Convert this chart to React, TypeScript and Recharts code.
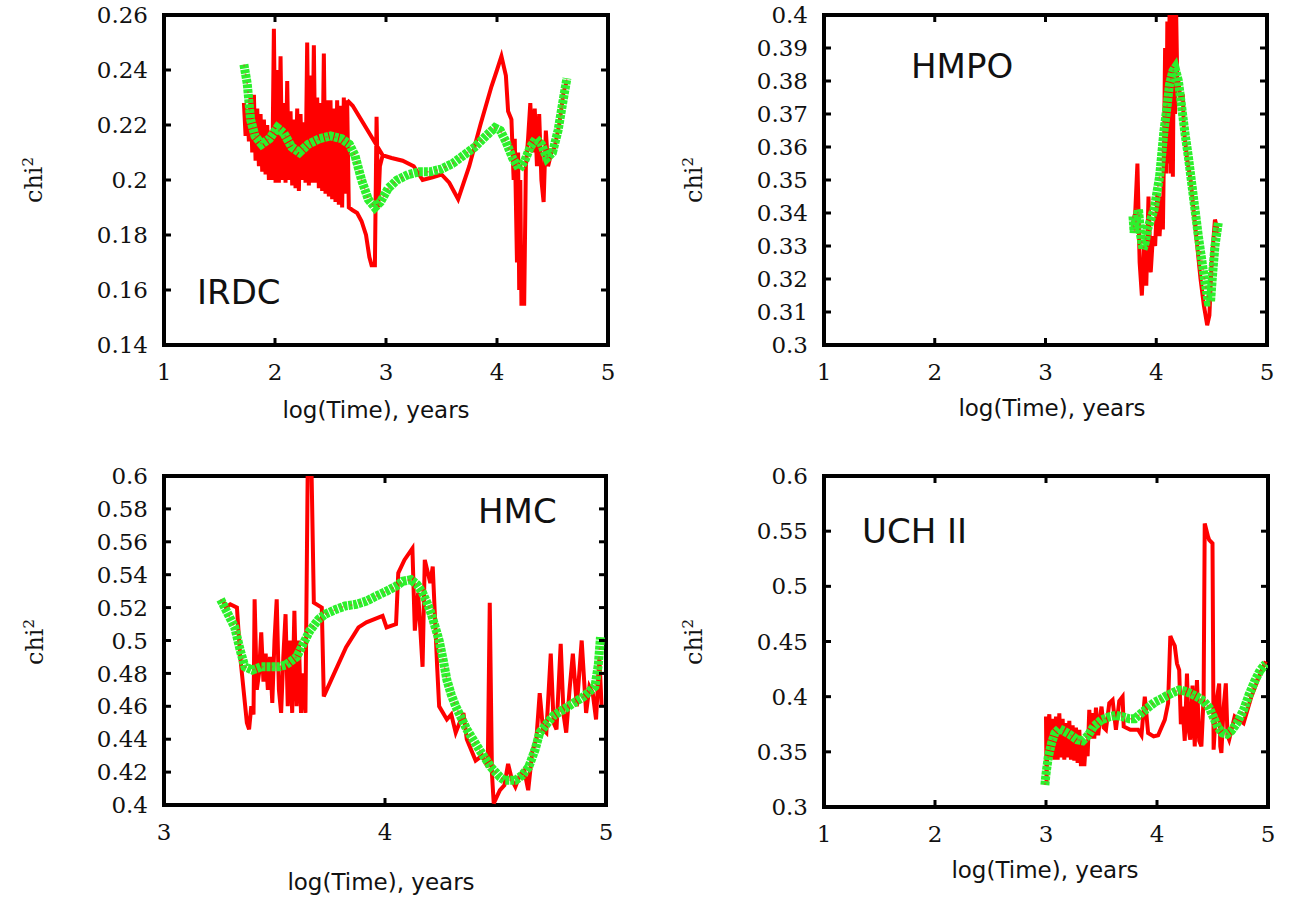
import React from 'react';
import { LineChart, Line, XAxis, YAxis, ReferenceArea, ReferenceLine } from 'recharts';

type Pt = [number, number | null];

// IRDC: raw chi^2 (red) and smoothed curve (green)
const IRDC_RED: Pt[] = [
  [1.72, 0.228], [1.735, 0.216], [1.75, 0.226], [1.765, 0.214], [1.78, 0.231], [1.795, 0.21],
  [1.81, 0.231], [1.825, 0.207], [1.84, 0.226], [1.855, 0.205], [1.87, 0.224], [1.885, 0.203],
  [1.9, 0.222], [1.915, 0.202], [1.93, 0.22], [1.945, 0.2], [1.96, 0.218], [1.975, 0.2],
  [1.99, 0.255], [2.005, 0.199], [2.02, 0.24], [2.035, 0.199], [2.05, 0.245], [2.065, 0.2],
  [2.08, 0.228], [2.095, 0.199], [2.11, 0.236], [2.125, 0.2], [2.14, 0.225], [2.155, 0.198],
  [2.17, 0.222], [2.185, 0.197], [2.2, 0.226], [2.215, 0.196], [2.23, 0.224], [2.245, 0.2],
  [2.26, 0.221], [2.275, 0.199], [2.29, 0.25], [2.305, 0.198], [2.32, 0.238], [2.335, 0.199],
  [2.35, 0.249], [2.365, 0.199], [2.38, 0.23], [2.395, 0.197], [2.41, 0.228], [2.425, 0.196],
  [2.44, 0.246], [2.455, 0.195], [2.47, 0.229], [2.485, 0.194], [2.5, 0.229], [2.515, 0.193],
  [2.53, 0.226], [2.545, 0.192], [2.56, 0.229], [2.575, 0.191], [2.59, 0.227], [2.605, 0.19],
  [2.62, 0.23], [2.635, 0.195], [2.65, 0.229], [2.665, 0.19], [2.7, 0.189], [2.74, 0.188],
  [2.78, 0.185], [2.82, 0.18], [2.85, 0.172], [2.87, 0.169], [2.9, 0.169], [2.915, 0.223],
  [2.93, 0.19], [2.945, 0.205], [2.97, 0.209], [3.05, 0.208], [3.15, 0.207], [3.25, 0.205],
  [3.33, 0.2], [3.42, 0.201], [3.5, 0.202], [3.57, 0.199], [3.65, 0.193], [3.75, 0.205],
  [3.85, 0.22], [3.95, 0.234], [4.0, 0.24], [4.04, 0.245], [4.08, 0.238], [4.1, 0.225],
  [4.13, 0.222], [4.15, 0.2], [4.16, 0.215], [4.18, 0.17], [4.19, 0.21], [4.2, 0.16],
  [4.21, 0.2], [4.22, 0.155], [4.245, 0.155], [4.26, 0.205], [4.28, 0.215], [4.3, 0.228],
  [4.32, 0.21], [4.34, 0.226], [4.36, 0.205], [4.38, 0.224], [4.4, 0.2], [4.42, 0.192],
  [4.44, 0.218], [4.46, 0.205], [4.49, 0.21], [4.52, 0.212], [4.56, 0.22], [4.6, 0.232],
  [4.63, 0.236],
  // separate stroke: the slope after the 2.65 spike
  [4.63, null], [2.65, 0.229], [2.7, 0.227], [2.97, 0.209],
];
const IRDC_GREEN: Pt[] = [
  [1.72, 0.242], [1.75, 0.235], [1.78, 0.222], [1.82, 0.216], [1.88, 0.213], [1.95, 0.215],
  [2.02, 0.219], [2.08, 0.217], [2.15, 0.212], [2.22, 0.21], [2.3, 0.213], [2.4, 0.215],
  [2.5, 0.216], [2.6, 0.215], [2.67, 0.213], [2.72, 0.209], [2.78, 0.2], [2.84, 0.193],
  [2.9, 0.19], [2.95, 0.192], [3.02, 0.197], [3.1, 0.2], [3.2, 0.202], [3.3, 0.203],
  [3.4, 0.203], [3.5, 0.204], [3.6, 0.206], [3.7, 0.209], [3.8, 0.212], [3.9, 0.216],
  [3.98, 0.219], [4.03, 0.218], [4.08, 0.214], [4.14, 0.208], [4.2, 0.204], [4.25, 0.207],
  [4.3, 0.212], [4.35, 0.215], [4.4, 0.213], [4.45, 0.208], [4.5, 0.21], [4.55, 0.218],
  [4.6, 0.23], [4.63, 0.237],
];

// HMPO
const HMPO_RED: Pt[] = [
  [3.79, 0.337], [3.81, 0.34], [3.83, 0.355], [3.85, 0.325], [3.87, 0.315], [3.89, 0.33],
  [3.91, 0.318], [3.93, 0.345], [3.95, 0.322], [3.97, 0.333], [3.99, 0.33], [4.01, 0.346],
  [4.03, 0.333], [4.05, 0.345], [4.06, 0.335], [4.07, 0.36], [4.08, 0.39], [4.09, 0.352],
  [4.1, 0.398], [4.11, 0.355], [4.12, 0.4], [4.13, 0.352], [4.14, 0.4], [4.15, 0.351],
  [4.16, 0.4], [4.17, 0.37], [4.18, 0.4], [4.19, 0.38], [4.2, 0.38], [4.22, 0.374],
  [4.24, 0.376], [4.25, 0.365], [4.28, 0.356], [4.31, 0.35], [4.34, 0.34], [4.37, 0.33],
  [4.4, 0.32], [4.43, 0.312], [4.46, 0.306], [4.48, 0.309], [4.5, 0.325], [4.53, 0.338],
  [4.56, 0.334],
];
const HMPO_GREEN: Pt[] = [
  [3.79, 0.339], [3.8, 0.334], [3.82, 0.338], [3.84, 0.341], [3.86, 0.333], [3.88, 0.329],
  [3.9, 0.331], [3.92, 0.335], [3.95, 0.338], [3.98, 0.341], [4.0, 0.345], [4.03, 0.351],
  [4.05, 0.358], [4.07, 0.365], [4.1, 0.373], [4.12, 0.379], [4.15, 0.383], [4.17, 0.384],
  [4.2, 0.38], [4.23, 0.372], [4.26, 0.364], [4.29, 0.357], [4.32, 0.349], [4.35, 0.341],
  [4.38, 0.333], [4.41, 0.326], [4.44, 0.319], [4.47, 0.313], [4.49, 0.313], [4.51, 0.322],
  [4.53, 0.33], [4.56, 0.337],
];

// HMC
const HMC_RED: Pt[] = [
  [3.265, 0.525], [3.28, 0.52], [3.3, 0.522], [3.33, 0.52], [3.345, 0.49], [3.36, 0.47],
  [3.375, 0.45], [3.385, 0.446], [3.395, 0.46], [3.405, 0.455], [3.41, 0.525], [3.42, 0.47],
  [3.43, 0.48], [3.44, 0.505], [3.45, 0.475], [3.46, 0.492], [3.47, 0.47], [3.48, 0.49],
  [3.49, 0.462], [3.5, 0.5], [3.51, 0.525], [3.52, 0.47], [3.53, 0.456], [3.54, 0.49],
  [3.55, 0.516], [3.56, 0.46], [3.57, 0.5], [3.58, 0.456], [3.59, 0.518], [3.6, 0.46],
  [3.61, 0.5], [3.62, 0.456], [3.63, 0.48], [3.64, 0.456], [3.65, 0.6], [3.668, 0.6],
  [3.678, 0.523], [3.714, 0.52], [3.723, 0.466], [3.77, 0.48], [3.824, 0.496], [3.88, 0.508],
  [3.916, 0.511], [3.989, 0.515], [4.007, 0.508], [4.05, 0.51], [4.06, 0.541], [4.088, 0.549],
  [4.124, 0.556], [4.135, 0.506], [4.15, 0.529], [4.17, 0.484], [4.18, 0.549], [4.205, 0.535],
  [4.216, 0.545], [4.236, 0.484], [4.245, 0.46], [4.28, 0.452], [4.3, 0.455], [4.32, 0.444],
  [4.355, 0.456], [4.37, 0.44], [4.41, 0.427], [4.44, 0.43], [4.465, 0.423], [4.474, 0.523],
  [4.484, 0.419], [4.492, 0.401], [4.52, 0.409], [4.54, 0.412], [4.557, 0.425], [4.575, 0.415],
  [4.59, 0.411], [4.61, 0.418], [4.63, 0.421], [4.648, 0.409], [4.667, 0.433], [4.685, 0.44],
  [4.7, 0.468], [4.715, 0.446], [4.73, 0.444], [4.75, 0.492], [4.763, 0.45], [4.776, 0.446],
  [4.795, 0.498], [4.808, 0.455], [4.82, 0.444], [4.835, 0.47], [4.85, 0.492], [4.868, 0.46],
  [4.89, 0.5], [4.91, 0.456], [4.925, 0.472], [4.94, 0.468], [4.955, 0.452], [4.97, 0.49],
  [4.98, 0.46],
];
const HMC_GREEN: Pt[] = [
  [3.256, 0.525], [3.29, 0.516], [3.32, 0.508], [3.345, 0.494], [3.366, 0.484], [3.4, 0.482],
  [3.44, 0.484], [3.476, 0.484], [3.52, 0.484], [3.55, 0.485], [3.6, 0.49], [3.63, 0.498],
  [3.66, 0.506], [3.7, 0.513], [3.73, 0.516], [3.78, 0.519], [3.82, 0.521], [3.87, 0.522],
  [3.916, 0.524], [3.96, 0.527], [4.007, 0.53], [4.05, 0.533], [4.08, 0.536], [4.117, 0.537],
  [4.145, 0.534], [4.17, 0.529], [4.19, 0.523], [4.21, 0.516], [4.245, 0.5], [4.265, 0.487],
  [4.28, 0.476], [4.3, 0.467], [4.32, 0.46], [4.37, 0.446], [4.43, 0.433], [4.48, 0.423],
  [4.52, 0.417], [4.54, 0.415], [4.59, 0.415], [4.62, 0.418], [4.65, 0.423], [4.68, 0.434],
  [4.7, 0.444], [4.73, 0.449], [4.76, 0.454], [4.83, 0.46], [4.9, 0.466], [4.95, 0.472],
  [4.965, 0.485], [4.975, 0.502],
];

// UCH II
const UCH_RED: Pt[] = [
  [3.0, 0.382], [3.005, 0.322], [3.015, 0.37], [3.03, 0.384], [3.045, 0.345], [3.06, 0.38],
  [3.075, 0.343], [3.09, 0.382], [3.105, 0.343], [3.12, 0.385], [3.135, 0.345], [3.15, 0.38],
  [3.165, 0.343], [3.18, 0.376], [3.195, 0.345], [3.21, 0.378], [3.225, 0.343], [3.24, 0.374],
  [3.255, 0.342], [3.27, 0.372], [3.285, 0.34], [3.3, 0.37], [3.315, 0.337], [3.33, 0.36],
  [3.345, 0.337], [3.36, 0.36], [3.375, 0.346], [3.39, 0.388], [3.405, 0.362], [3.42, 0.385],
  [3.435, 0.362], [3.45, 0.39], [3.47, 0.365], [3.5, 0.391], [3.52, 0.372], [3.54, 0.37],
  [3.57, 0.394], [3.6, 0.397], [3.63, 0.37], [3.66, 0.396], [3.69, 0.4], [3.7, 0.373],
  [3.76, 0.37], [3.83, 0.37], [3.86, 0.365], [3.89, 0.4], [3.92, 0.367], [3.97, 0.364],
  [4.01, 0.365], [4.07, 0.379], [4.1, 0.394], [4.12, 0.455], [4.14, 0.45], [4.16, 0.446],
  [4.18, 0.43], [4.2, 0.424], [4.215, 0.375], [4.23, 0.391], [4.25, 0.36], [4.27, 0.421],
  [4.285, 0.37], [4.3, 0.361], [4.32, 0.41], [4.34, 0.355], [4.36, 0.415], [4.38, 0.36],
  [4.4, 0.355], [4.42, 0.4], [4.43, 0.557], [4.46, 0.545], [4.47, 0.542], [4.5, 0.539],
  [4.51, 0.352], [4.535, 0.395], [4.56, 0.412], [4.57, 0.355], [4.58, 0.349], [4.6, 0.39],
  [4.62, 0.412], [4.635, 0.365], [4.65, 0.361], [4.7, 0.382], [4.78, 0.376], [4.85, 0.4],
  [4.93, 0.421], [4.98, 0.432],
];
const UCH_GREEN: Pt[] = [
  [2.99, 0.32], [3.0, 0.33], [3.02, 0.345], [3.05, 0.358], [3.08, 0.367], [3.12, 0.371],
  [3.16, 0.369], [3.21, 0.366], [3.28, 0.361], [3.33, 0.36], [3.38, 0.365], [3.43, 0.373],
  [3.5, 0.379], [3.575, 0.382], [3.63, 0.383], [3.685, 0.382], [3.75, 0.38], [3.8, 0.38],
  [3.87, 0.386], [3.93, 0.391], [3.98, 0.395], [4.04, 0.398], [4.09, 0.401], [4.15, 0.404],
  [4.2, 0.406], [4.25, 0.405], [4.3, 0.403], [4.36, 0.4], [4.42, 0.396], [4.47, 0.39],
  [4.51, 0.381], [4.55, 0.372], [4.59, 0.367], [4.63, 0.366], [4.67, 0.369], [4.72, 0.376],
  [4.78, 0.388], [4.83, 0.402], [4.88, 0.414], [4.93, 0.424], [4.98, 0.43],
];

const LOG_T_TICKS = [1, 2, 3, 4, 5];
const HMC_X_TICKS = [3, 4, 5];
const IRDC_Y_TICKS = [0.14, 0.16, 0.18, 0.2, 0.22, 0.24, 0.26];
const HMPO_Y_TICKS = [0.3, 0.31, 0.32, 0.33, 0.34, 0.35, 0.36, 0.37, 0.38, 0.39, 0.4];
const HMC_Y_TICKS = [0.4, 0.42, 0.44, 0.46, 0.48, 0.5, 0.52, 0.54, 0.56, 0.58, 0.6];
const UCH_Y_TICKS = [0.3, 0.35, 0.4, 0.45, 0.5, 0.55, 0.6];

const toRows = (pts: Pt[]) => pts.map(([x, y]) => ({ x, y }));

const SERIF = '"DejaVu Serif", "Liberation Serif", serif';
const SANS = '"DejaVu Sans", "Liberation Sans", sans-serif';

const tickText = { fill: '#111', fontSize: 23, fontFamily: SERIF };
const TICK_PX = 7;

interface PanelProps {
  left: number;
  top: number;
  width: number;
  height: number;
  yAxisWidth: number;
  marginTop: number;
  marginRight: number;
  xAxisHeight: number;
  xDomain: [number, number];
  xTicks: number[];
  yDomain: [number, number];
  yTicks: number[];
  red: Pt[];
  green: Pt[];
}

function Panel(p: PanelProps) {
  const [x0, x1] = p.xDomain;
  const [y0, y1] = p.yDomain;
  const plotW = p.width - p.yAxisWidth - p.marginRight;
  const plotH = p.height - p.marginTop - p.xAxisHeight;
  // gnuplot-style inward ticks on all four sides, expressed in data units
  const dx = ((x1 - x0) * TICK_PX) / plotW;
  const dy = ((y1 - y0) * TICK_PX) / plotH;
  const tickProps = { stroke: '#000', strokeWidth: 3, ifOverflow: 'visible' as const };

  return (
    <div style={{ position: 'absolute', left: p.left, top: p.top }}>
      <LineChart
        width={p.width}
        height={p.height}
        margin={{ top: p.marginTop, right: p.marginRight, bottom: 0, left: 0 }}
      >
        <XAxis
          type="number"
          dataKey="x"
          domain={p.xDomain}
          ticks={p.xTicks}
          interval={0}
          allowDataOverflow
          height={p.xAxisHeight}
          axisLine={false}
          tickLine={false}
          tickSize={0}
          tickMargin={19}
          tick={tickText}
        />
        <YAxis
          type="number"
          domain={p.yDomain}
          ticks={p.yTicks}
          interval={0}
          allowDataOverflow
          width={p.yAxisWidth}
          axisLine={false}
          tickLine={false}
          tickSize={0}
          tickMargin={16}
          tick={tickText}
          tickFormatter={(v: number) => String(v)}
        />
        <Line
          data={toRows(p.red)}
          dataKey="y"
          type="linear"
          stroke="#ff0000"
          strokeWidth={4}
          dot={false}
          isAnimationActive={false}
        />
        {/* smoothed fit: thick point-chain look */}
        <Line
          data={toRows(p.green)}
          dataKey="y"
          type="linear"
          stroke="#2cf02c"
          strokeWidth={9}
          strokeDasharray="4 1"
          dot={false}
          isAnimationActive={false}
        />
        <Line
          data={toRows(p.green)}
          dataKey="y"
          type="linear"
          stroke="#d8402a"
          strokeWidth={1.5}
          strokeDasharray="2 7"
          strokeOpacity={0.6}
          dot={false}
          isAnimationActive={false}
        />
        {p.xTicks.map((t) => (
          <ReferenceLine key={`xb${t}`} segment={[{ x: t, y: y0 }, { x: t, y: y0 + dy }]} {...tickProps} />
        ))}
        {p.xTicks.map((t) => (
          <ReferenceLine key={`xt${t}`} segment={[{ x: t, y: y1 }, { x: t, y: y1 - dy }]} {...tickProps} />
        ))}
        {p.yTicks.map((t) => (
          <ReferenceLine key={`yl${t}`} segment={[{ x: x0, y: t }, { x: x0 + dx, y: t }]} {...tickProps} />
        ))}
        {p.yTicks.map((t) => (
          <ReferenceLine key={`yr${t}`} segment={[{ x: x1, y: t }, { x: x1 - dx, y: t }]} {...tickProps} />
        ))}
        <ReferenceArea
          x1={x0}
          x2={x1}
          y1={y0}
          y2={y1}
          fill="none"
          fillOpacity={0}
          stroke="#000"
          strokeWidth={4}
          strokeOpacity={1}
          ifOverflow="visible"
        />
      </LineChart>
    </div>
  );
}

function Chi2({ x, y }: { x: number; y: number }) {
  return (
    <div
      style={{
        position: 'absolute',
        left: x,
        top: y,
        transform: 'translate(-50%, -50%) rotate(-90deg)',
        fontFamily: SERIF,
        fontSize: 24,
        whiteSpace: 'nowrap',
        color: '#111',
      }}
    >
      chi<sup style={{ fontSize: 15 }}>2</sup>
    </div>
  );
}

function TimeLabel({ x, y }: { x: number; y: number }) {
  return (
    <div
      style={{
        position: 'absolute',
        left: x,
        top: y,
        transform: 'translate(-50%, -50%)',
        fontFamily: SANS,
        fontSize: 23,
        whiteSpace: 'nowrap',
        color: '#111',
      }}
    >
      log(Time), years
    </div>
  );
}

function Title({ x, y, text }: { x: number; y: number; text: string }) {
  return (
    <div
      style={{
        position: 'absolute',
        left: x,
        top: y,
        fontFamily: SANS,
        fontSize: 34,
        lineHeight: 1,
        whiteSpace: 'nowrap',
        color: '#111',
      }}
    >
      {text}
    </div>
  );
}

export default function App() {
  return (
    <div
      style={{
        position: 'absolute',
        left: 0,
        top: 0,
        width: 1290,
        height: 897,
        background: '#fff',
        overflow: 'hidden',
      }}
    >
      <Panel
        left={0} top={0} width={645} height={440}
        yAxisWidth={164} marginTop={15} marginRight={37} xAxisHeight={95}
        xDomain={[1, 5]} xTicks={LOG_T_TICKS}
        yDomain={[0.14, 0.26]} yTicks={IRDC_Y_TICKS}
        red={IRDC_RED} green={IRDC_GREEN}
      />
      <Panel
        left={650} top={0} width={640} height={440}
        yAxisWidth={174} marginTop={15} marginRight={23} xAxisHeight={95}
        xDomain={[1, 5]} xTicks={LOG_T_TICKS}
        yDomain={[0.3, 0.4]} yTicks={HMPO_Y_TICKS}
        red={HMPO_RED} green={HMPO_GREEN}
      />
      <Panel
        left={0} top={445} width={645} height={452}
        yAxisWidth={164} marginTop={31} marginRight={39} xAxisHeight={92}
        xDomain={[3, 5]} xTicks={HMC_X_TICKS}
        yDomain={[0.4, 0.6]} yTicks={HMC_Y_TICKS}
        red={HMC_RED} green={HMC_GREEN}
      />
      <Panel
        left={650} top={445} width={640} height={452}
        yAxisWidth={174} marginTop={31} marginRight={22} xAxisHeight={90}
        xDomain={[1, 5]} xTicks={LOG_T_TICKS}
        yDomain={[0.3, 0.6]} yTicks={UCH_Y_TICKS}
        red={UCH_RED} green={UCH_GREEN}
      />

      <Chi2 x={33} y={180} />
      <Chi2 x={693} y={180} />
      <Chi2 x={34} y={642} />
      <Chi2 x={693} y={642} />

      <TimeLabel x={376} y={410} />
      <TimeLabel x={1052} y={408} />
      <TimeLabel x={381} y={882} />
      <TimeLabel x={1045} y={870} />

      <Title x={197} y={275} text="IRDC" />
      <Title x={911} y={49} text="HMPO" />
      <Title x={478} y={494} text="HMC" />
      <Title x={862} y={514} text="UCH II" />
    </div>
  );
}
